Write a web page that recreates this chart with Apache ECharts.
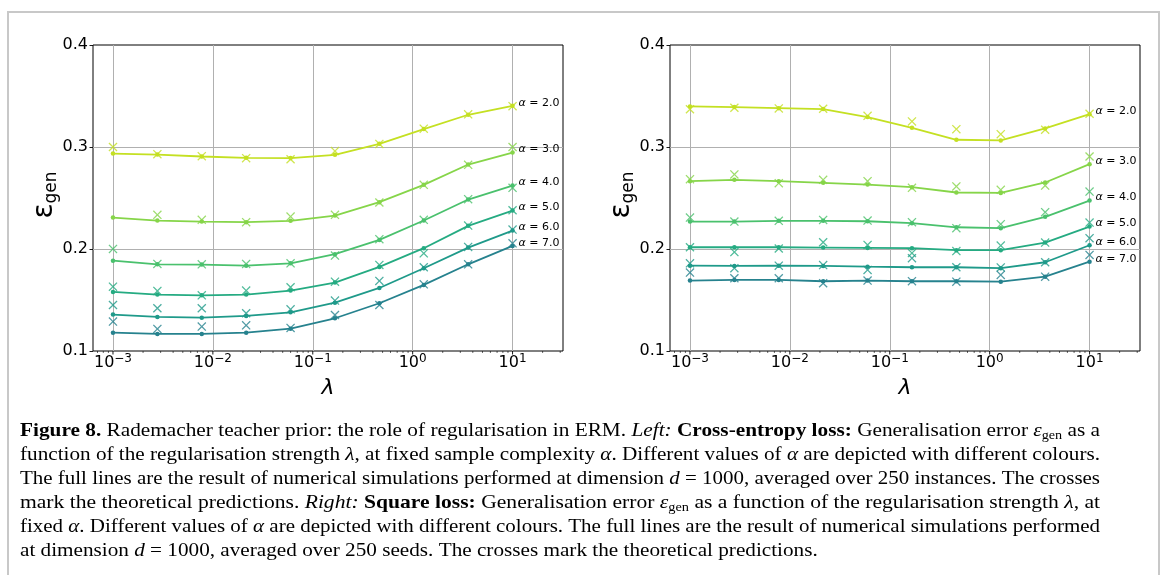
<!DOCTYPE html>
<html><head><meta charset="utf-8">
<script src="https://cdn.jsdelivr.net/npm/echarts@6/dist/echarts.min.js"></script>
<style>html,body{margin:0;padding:0;background:#fff}#c{width:1166px;height:575px}</style>
</head><body><div id="c"></div>
<script>
// ---------- data ----------
const lambdas = [0.001, 0.002783, 0.007743, 0.02154, 0.05995, 0.1668, 0.4642, 1.2915, 3.594, 10];
const alphas = ['2.0', '3.0', '4.0', '5.0', '6.0', '7.0'];
const colors = ['#c4e022', '#86d549', '#4ac16d', '#25ab82', '#1f9a8a', '#26828e'];
const yTicks = [0.1, 0.2, 0.3, 0.4];
const xTickExps = [-3, -2, -1, 0, 1];

// Left: cross-entropy loss, simulations (lines) and theory (crosses)
const ceSim2 = [0.2936, 0.2926, 0.2907, 0.2894, 0.2891, 0.2923, 0.3031, 0.3176, 0.3316, 0.3404];
const ceSim3 = [0.2308, 0.2279, 0.2269, 0.2263, 0.2276, 0.2328, 0.2459, 0.2629, 0.2828, 0.2946];
const ceSim4 = [0.1886, 0.1850, 0.1847, 0.1837, 0.1860, 0.1949, 0.2089, 0.2279, 0.2485, 0.2622];
const ceSim5 = [0.1579, 0.1553, 0.1546, 0.1553, 0.1592, 0.1671, 0.1824, 0.2008, 0.2227, 0.2377];
const ceSim6 = [0.1357, 0.1334, 0.1327, 0.1344, 0.1379, 0.1474, 0.1618, 0.1811, 0.2014, 0.2181];
const ceSim7 = [0.1180, 0.1167, 0.1167, 0.1180, 0.1219, 0.1321, 0.1468, 0.1648, 0.1850, 0.2030];
const ceTh2 = [0.3000, 0.2930, 0.2910, 0.2890, 0.2880, 0.2960, 0.3030, 0.3180, 0.3320, 0.3400];
const ceTh3 = [null, 0.2335, 0.2286, 0.2263, 0.2318, 0.2335, 0.2456, 0.2629, 0.2825, 0.3000];
const ceTh4 = [0.2001, 0.1854, 0.1850, 0.1854, 0.1860, 0.1936, 0.2096, 0.2286, 0.2488, 0.2600];
const ceTh5 = [0.1631, 0.1589, 0.1546, 0.1592, 0.1625, 0.1680, 0.1844, 0.1958, 0.2230, 0.2380];
const ceTh6 = [0.1451, 0.1419, 0.1419, 0.1370, 0.1409, 0.1494, 0.1687, 0.1821, 0.2020, 0.2190];
const ceTh7 = [0.1288, 0.1216, 0.1239, 0.1252, 0.1226, 0.1353, 0.1451, 0.1654, 0.1850, 0.2056];

// Right: square loss
const sqSim2 = [0.3398, 0.3391, 0.3381, 0.3372, 0.3293, 0.3188, 0.3071, 0.3064, 0.3182, 0.3322];
const sqSim3 = [0.2665, 0.2678, 0.2665, 0.2649, 0.2632, 0.2606, 0.2554, 0.2550, 0.2652, 0.2832];
const sqSim4 = [0.2269, 0.2269, 0.2276, 0.2276, 0.2272, 0.2253, 0.2213, 0.2204, 0.2315, 0.2475];
const sqSim5 = [0.2017, 0.2017, 0.2017, 0.2014, 0.2011, 0.2008, 0.1988, 0.1988, 0.2063, 0.2220];
const sqSim6 = [0.1837, 0.1834, 0.1837, 0.1834, 0.1827, 0.1821, 0.1821, 0.1812, 0.1870, 0.2037];
const sqSim7 = [0.1690, 0.1697, 0.1697, 0.1684, 0.1690, 0.1684, 0.1684, 0.1680, 0.1729, 0.1876];
const sqTh2 = [0.3370, 0.3385, 0.3378, 0.3375, 0.3306, 0.3251, 0.3175, 0.3126, 0.3169, 0.3326];
const sqTh3 = [0.2685, 0.2731, 0.2645, 0.2678, 0.2665, 0.2600, 0.2613, 0.2580, 0.2622, 0.2907];
const sqTh4 = [0.2308, 0.2269, 0.2276, 0.2285, 0.2279, 0.2263, 0.2204, 0.2243, 0.2361, 0.2563];
const sqTh5 = [0.2017, 0.1970, 0.2005, 0.2066, 0.2040, 0.1960, 0.1980, 0.2034, 0.2063, 0.2259];
const sqTh6 = [0.1860, 0.1812, 0.1837, 0.1842, 0.1795, 0.1910, 0.1821, 0.1819, 0.1870, 0.2106];
const sqTh7 = [0.1769, 0.1713, 0.1713, 0.1664, 0.1690, 0.1685, 0.1680, 0.1746, 0.1729, 0.1942];

const ceSim = [ceSim2, ceSim3, ceSim4, ceSim5, ceSim6, ceSim7];
const ceTh = [ceTh2, ceTh3, ceTh4, ceTh5, ceTh6, ceTh7];
const sqSim = [sqSim2, sqSim3, sqSim4, sqSim5, sqSim6, sqSim7];
const sqTh = [sqTh2, sqTh3, sqTh4, sqTh5, sqTh6, sqTh7];

// caption (text segments: style key, text)
const captionLines = [
  [['b','Figure 8.'],['r',' Rademacher teacher prior: the role of regularisation in ERM. '],['i','Left:'],['r',' '],['b','Cross-entropy loss:'],['r',' Generalisation error '],['i','ε'],['sub','gen'],['r',' as a']],
  [['r','function of the regularisation strength '],['i','λ'],['r',', at fixed sample complexity '],['i','α'],['r','. Different values of '],['i','α'],['r',' are depicted with different colours.']],
  [['r','The full lines are the result of numerical simulations performed at dimension '],['i','d'],['r',' = 1000, averaged over 250 instances. The crosses']],
  [['r','mark the theoretical predictions. '],['i','Right:'],['r',' '],['b','Square loss:'],['r',' Generalisation error '],['i','ε'],['sub','gen'],['r',' as a function of the regularisation strength '],['i','λ'],['r',', at']],
  [['r','fixed '],['i','α'],['r','. Different values of '],['i','α'],['r',' are depicted with different colours. The full lines are the result of numerical simulations performed']],
  [['r','at dimension '],['i','d'],['r',' = 1000, averaged over 250 seeds. The crosses mark the theoretical predictions.']]
];

// ---------- layout ----------
const xMin = Math.pow(10, -3.2), xMax = Math.pow(10, 1.505);
const yMin = 0.1, yMax = 0.4;
const grids = [
  {left: 93, top: 45, width: 470, height: 306},
  {left: 670, top: 45, width: 470, height: 306}
];
const TICK_FONT = 'DejaVu Sans';
const crossPath = 'path://M0,1L1,0L5,4L9,0L10,1L6,5L10,9L9,10L5,6L1,10L0,9L4,5Z';

function xLabelFmt(v) {
  const l = Math.log10(v), e = Math.round(l);
  if (Math.abs(l - e) > 1e-6 || xTickExps.indexOf(e) < 0) return '';
  return '{b|10}{s|' + (e < 0 ? '\u2212' + (-e) : e) + '}';
}

const xAxes = [], yAxes = [], series = [];
const minorTicks = [];
for (let e = -4; e <= 1; e++) for (let m = 2; m <= 9; m++) {
  const v = m * Math.pow(10, e);
  if (v > xMin && v < xMax) minorTicks.push([v, 0]);
}
const tickData = xTickExps.map(e => [Math.pow(10, e), 1]).concat(minorTicks);

[0, 1].forEach(g => {
  xAxes.push({
    type: 'log', logBase: 10, gridIndex: g, min: xMin, max: xMax,
    axisLine: {show: false}, axisTick: {show: false},
    splitLine: {show: true, showMinLine: false, showMaxLine: false, lineStyle: {color: '#b0b0b0', width: 1}},
    axisLabel: {
      formatter: xLabelFmt, margin: 2, showMinLabel: false, showMaxLabel: false,
      rich: {
        b: {fontFamily: TICK_FONT, fontSize: 16, lineHeight: 19, color: '#000'},
        s: {fontFamily: TICK_FONT, fontSize: 12, lineHeight: 11, verticalAlign: 'top', color: '#000'}
      }
    }
  });
  yAxes.push({
    type: 'value', gridIndex: g, min: yMin, max: yMax, interval: 0.1,
    axisLine: {show: false},
    axisTick: {show: true, length: 3.5, lineStyle: {color: '#000', width: 0.9}},
    splitLine: {show: true, showMinLine: false, showMaxLine: false, lineStyle: {color: '#b0b0b0', width: 1}},
    axisLabel: {formatter: v => v.toFixed(1), fontFamily: TICK_FONT, fontSize: 16, color: '#000', margin: 5}
  });
  // x ticks (major + log minor)
  series.push({
    type: 'custom', xAxisIndex: g, yAxisIndex: g, clip: false, silent: true, z: 5,
    data: tickData,
    renderItem: (params, api) => {
      const major = api.value(1) === 1;
      const p = api.coord([api.value(0), yMin]);
      return {type: 'line', shape: {x1: p[0], y1: p[1], x2: p[0], y2: p[1] + (major ? 3.5 : 2)},
        style: {stroke: '#000', lineWidth: major ? 0.9 : 0.6}};
    }
  });
  const sims = g === 0 ? ceSim : sqSim;
  const ths = g === 0 ? ceTh : sqTh;
  sims.forEach((arr, k) => {
    series.push({
      type: 'line', xAxisIndex: g, yAxisIndex: g, z: 3,
      data: lambdas.map((x, i) => [x, arr[i]]),
      symbol: 'circle', symbolSize: 4.5, showSymbol: true,
      lineStyle: {color: colors[k], width: 1.8},
      itemStyle: {color: colors[k]},
      endLabel: {
        show: true, distance: 6, offset: [0, -3],
        formatter: '{a|α}{t| = ' + alphas[k] + '}',
        rich: {
          a: {fontFamily: TICK_FONT, fontStyle: 'italic', fontSize: 11, color: '#000'},
          t: {fontFamily: TICK_FONT, fontSize: 11, color: '#000'}
        }
      }
    });
  });
  ths.forEach((arr, k) => {
    const d = [];
    lambdas.forEach((x, i) => { if (arr[i] !== null) d.push([x, arr[i]]); });
    series.push({
      type: 'scatter', xAxisIndex: g, yAxisIndex: g, z: 4,
      data: d, symbol: crossPath, symbolSize: 9,
      itemStyle: {color: colors[k], opacity: 0.8}
    });
  });
});

// ---------- caption measurement ----------
const CAP_FONT = 'Liberation Serif';
const CAP_SIZE = 19.5, SUB_SIZE = 13;
const capStyles = {
  r: {fontFamily: CAP_FONT, fontSize: CAP_SIZE, lineHeight: 22, color: '#231f20'},
  b: {fontFamily: CAP_FONT, fontSize: CAP_SIZE, fontWeight: 'bold', lineHeight: 22, color: '#231f20'},
  i: {fontFamily: CAP_FONT, fontSize: CAP_SIZE, fontStyle: 'italic', lineHeight: 22, color: '#231f20'},
  sub: {fontFamily: CAP_FONT, fontSize: SUB_SIZE, lineHeight: 12, verticalAlign: 'bottom', color: '#231f20'}
};
const mctx = document.createElement('canvas').getContext('2d');
function segWidth(key, t) {
  const s = capStyles[key];
  mctx.font = (s.fontStyle || 'normal') + ' ' + (s.fontWeight || 'normal') + ' ' + s.fontSize + 'px "' + s.fontFamily + '"';
  return mctx.measureText(t).width;
}
const capX = 20, capRight = 1100, capY0 = 431, capDy = 24;
const lineWidths = captionLines.map(segs => segs.reduce((a, s) => a + segWidth(s[0], s[1]), 0));
const justScales = lineWidths.slice(0, 5).map(w => (capRight - capX) / w);
const avgScale = justScales.reduce((a, b) => a + b, 0) / justScales.length;

const graphics = [
  {type: 'rect', shape: {x: 8, y: 12, width: 1151, height: 620}, style: {fill: 'none', stroke: '#c8c8c8', lineWidth: 2}, silent: true}
];
captionLines.forEach((segs, i) => {
  graphics.push({
    type: 'text', x: capX, y: capY0 + i * capDy, scaleX: i < 5 ? justScales[i] : avgScale, scaleY: 1,
    style: {
      text: segs.map(s => '{' + s[0] + '|' + s[1] + '}').join(''),
      rich: capStyles, textVerticalAlign: 'middle', textAlign: 'left'
    },
    silent: true
  });
});
// axis titles
grids.forEach((gr, g) => {
  const cx = gr.left + gr.width / 2;
  graphics.push({
    type: 'text', x: cx, y: 388,
    style: {text: 'λ', fontFamily: TICK_FONT, fontSize: 22, fontStyle: 'italic', fill: '#000', textAlign: 'center', textVerticalAlign: 'middle'},
    silent: true
  });
  graphics.push({
    type: 'text', x: g === 0 ? 45 : 622, y: gr.top + gr.height / 2 - 3, rotation: Math.PI / 2,
    style: {
      text: '{e|ε}{g|gen}', textAlign: 'center', textVerticalAlign: 'middle',
      rich: {
        e: {fontFamily: TICK_FONT, fontSize: 28, lineHeight: 30, color: '#000'},
        g: {fontFamily: TICK_FONT, fontSize: 17, lineHeight: 16, verticalAlign: 'bottom', color: '#000'}
      }
    },
    silent: true
  });
});

const chart = echarts.init(document.getElementById('c'), null, {renderer: 'canvas'});
chart.setOption({
  animation: false,
  backgroundColor: '#fff',
  grid: grids.map(g => Object.assign({show: true, borderColor: '#000', borderWidth: 1, backgroundColor: 'transparent'}, g)),
  xAxis: xAxes,
  yAxis: yAxes,
  series: series,
  graphic: graphics
});
</script></body></html>
